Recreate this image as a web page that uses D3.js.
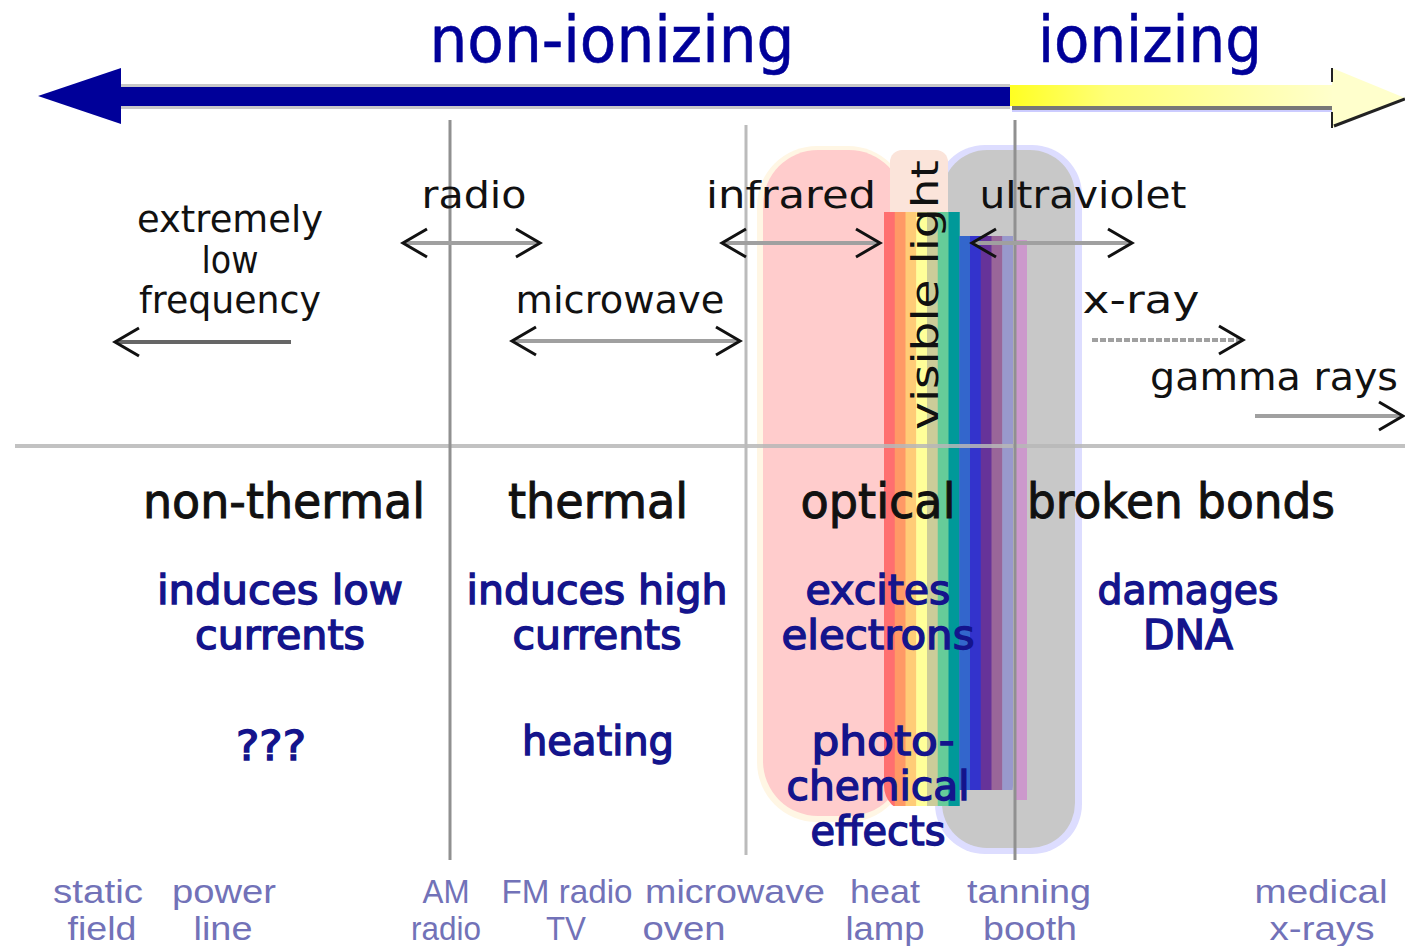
<!DOCTYPE html>
<html><head><meta charset="utf-8">
<script src="https://cdn.jsdelivr.net/npm/d3@7"></script>
<style>html,body{margin:0;padding:0;background:#fff;overflow:hidden}</style>
</head><body><svg id="chart" width="1405" height="946"></svg>
<script>
// ---------- data ----------
const divisions = ["non-ionizing", "ionizing"];
const bandLabels = [["extremely", "low", "frequency"], ["radio"], ["microwave"], ["infrared"], ["ultraviolet"], ["x-ray"], ["gamma rays"]];
const bandArrowTypes = ["left", "both", "both", "both", "both", "right", "right"];
const visibleLabel = "visible light";
const regionNames = ["non-thermal", "thermal", "optical", "broken bonds"];
const regionEffects = [["induces low", "currents"], ["induces high", "currents"], ["excites", "electrons"], ["damages", "DNA"]];
const regionOutcomes = [["???"], ["heating"], ["photo-", "chemical", "effects"], []];
const sources = [["static", "field"], ["power", "line"], ["AM", "radio"], ["FM radio", "TV"], ["microwave", "oven"], ["heat", "lamp"], ["tanning", "booth"], ["medical", "x-rays"]];
const spectrumColors = ["#FF6F6F", "#FF9966", "#FFCC77", "#FFFF99", "#CCCC99", "#66CC99", "#009999", "#3366CC", "#3333CC", "#663399", "#996699", "#9999CC"];

// ---------- layout (design-space positions) ----------
const dividerX = [450, 746, 1015];
const dividerY = [[120, 860], [125, 855], [120, 860]];
const titleCx = [612, 1150], titleW = [365, 224];
const bandCx = [230, 474, 620, 791, 1083, 1141, 1274];
const bandBase = [[232, 273, 313], [208], [313], [208], [208], [313], [390]];
const bandW = [[186, 57, 182], [105], [209], [170], [207], [117], [248]];
const arrowSpan = [[115, 293, 342], [403, 540, 243], [512, 740, 341], [722, 880, 243], [972, 1132, 243], [1090, 1243, 340], [1253, 1403, 416]];
const regionCx = [284, 598, 878, 1181], regionW = [282, 180, 155, 308];
const effectCx = [280, 597, 878, 1188];
const effectW = [[246, 170], [261, 169], [145, 193], [181, 90]];
const outcomeCx = [[271], [598], [883, 878, 878], []];
const outcomeW = [[70], [152], [143, 183, 135], []];
const outcomeBase = [[760], [755], [755, 800, 845], []];
const sourceCx = [[98, 102], [224, 223], [446, 446], [567, 566], [735, 684], [885, 885], [1029, 1030], [1321, 1322]];
const sourceW = [[90, 69], [104, 59], [47, 70], [131, 40], [180, 83], [70, 79], [124, 94], [133, 105]];

const W = 1405, H = 946;
const x = d3.scaleLinear().domain([0, 1405]).range([0, W]);
const y = d3.scaleLinear().domain([0, 946]).range([0, H]);
const svg = d3.select("#chart");
const defs = svg.append("defs");

function label(sel, t, cx, by, w, o) {
  return sel.append("text").attr("x", x(cx)).attr("y", y(by)).attr("text-anchor", "middle")
    .attr("textLength", x(w) - x(0)).attr("lengthAdjust", "spacingAndGlyphs")
    .attr("font-family", o.font).attr("font-size", o.size).attr("font-weight", o.weight || "normal")
    .attr("fill", o.fill).attr("stroke", o.stroke || "none").attr("stroke-width", o.sw || 0)
    .text(t);
}
function box(sel, x0, y0, x1, y1, r, fill) {
  return sel.append("rect").attr("x", x(x0)).attr("y", y(y0)).attr("width", x(x1) - x(x0))
    .attr("height", y(y1) - y(y0)).attr("rx", r).attr("fill", fill);
}

// ---------- visible-light glow region ----------
const glow = svg.append("g");
box(glow, 935, 145, 1082, 854, 50, "#DDDDFF");
box(glow, 942, 150, 1075, 848, 45, "#C8C8C8");
box(glow, 757, 146, 908, 822, 60, "#FFF6E4");
box(glow, 763, 150, 904, 816, 55, "#FFCCCC");
box(glow, 890, 150, 948, 240, 12, "#FBE4DA");
box(glow, 1016, 240, 1027, 800, 0, "#CC99CC");

defs.append("clipPath").attr("id", "specClip").append("rect")
  .attr("x", x(884)).attr("y", y(150)).attr("width", x(1013) - x(884)).attr("height", y(812) - y(150)).attr("rx", 26);
const band = d3.scaleBand().domain(d3.range(spectrumColors.length)).range([x(884), x(1013)]);
glow.append("g").attr("clip-path", "url(#specClip)").selectAll("rect").data(spectrumColors).join("rect")
  .attr("x", (d, i) => band(i)).attr("width", band.bandwidth() + 0.5)
  .attr("y", (d, i) => y(i < 7 ? 212 : 236)).attr("height", (d, i) => y(i < 7 ? 806 : 790) - y(i < 7 ? 212 : 236))
  .attr("fill", d => d);

// ---------- divider lines ----------
svg.append("line").attr("x1", x(15)).attr("x2", x(1405)).attr("y1", y(446)).attr("y2", y(446))
  .attr("stroke", "#B8B8B8").attr("stroke-width", 4).attr("opacity", 0.85);
svg.selectAll("line.div").data(dividerX).join("line").attr("class", "div")
  .attr("x1", d => x(d)).attr("x2", d => x(d))
  .attr("y1", (d, i) => y(dividerY[i][0])).attr("y2", (d, i) => y(dividerY[i][1]))
  .attr("stroke", (d, i) => i === 1 ? "#BBBBBB" : "#909090").attr("stroke-width", 3);

// ---------- big arrow ----------
const grad = defs.append("linearGradient").attr("id", "yel").attr("x1", "0").attr("x2", "1");
grad.append("stop").attr("offset", 0).attr("stop-color", "#FFFF22");
grad.append("stop").attr("offset", 0.3).attr("stop-color", "#FFFF77");
grad.append("stop").attr("offset", 1).attr("stop-color", "#FFFFCC");
const topArrow = svg.append("g");
topArrow.append("rect").attr("x", x(115)).attr("y", y(84)).attr("width", x(1010) - x(115)).attr("height", y(109) - y(84)).attr("fill", "#C8C8C8");
topArrow.append("rect").attr("x", x(110)).attr("y", y(87)).attr("width", x(1010) - x(110)).attr("height", y(106) - y(87)).attr("fill", "#000099");
topArrow.append("path").attr("d", `M${x(38)},${y(96)}L${x(121)},${y(68)}L${x(121)},${y(124)}Z`).attr("fill", "#000099");
topArrow.append("rect").attr("x", x(1010)).attr("y", y(85)).attr("width", x(1334) - x(1010)).attr("height", y(106) - y(85)).attr("fill", "url(#yel)");
topArrow.append("rect").attr("x", x(1012)).attr("y", y(106)).attr("width", x(1333) - x(1012)).attr("height", 4).attr("fill", "#777777");
topArrow.append("rect").attr("x", x(1012)).attr("y", y(110)).attr("width", x(1333) - x(1012)).attr("height", 2).attr("fill", "#CCCCFF");
topArrow.append("path").attr("d", `M${x(1332)},${y(68)}L${x(1405)},${y(98)}L${x(1332)},${y(128)}Z`).attr("fill", "#FFFFCC");
topArrow.append("path").attr("d", `M${x(1334)},${y(126)}L${x(1405)},${y(99)}`).attr("stroke", "#222").attr("stroke-width", 3);
topArrow.append("path").attr("d", `M${x(1332)},${y(68)}V${y(82)}M${x(1332)},${y(112)}V${y(128)}`).attr("stroke", "#222").attr("stroke-width", 2);

divisions.forEach((t, i) => label(svg, t, titleCx[i], 62, titleW[i], { font: "DejaVu Sans", size: 64, fill: "#000099", stroke: "#000099", sw: 0.6 }));

// ---------- band labels & arrows ----------
const blk = { font: "DejaVu Sans", size: 38, fill: "#111" };
bandLabels.forEach((lines, i) => lines.forEach((t, j) => label(svg, t, bandCx[i], bandBase[i][j], bandW[i][j], blk)));
label(svg, visibleLabel, 0, 0, 270, blk).attr("x", 0).attr("y", 0)
  .attr("transform", `translate(${x(938)},${y(295)}) rotate(-90)`);

const arrows = svg.append("g");
arrowSpan.forEach((s, i) => {
  const [a, b, yy] = s, typ = bandArrowTypes[i];
  arrows.append("line").attr("x1", x(a) + 2).attr("x2", x(b) - 2).attr("y1", y(yy)).attr("y2", y(yy))
    .attr("stroke", i === 0 ? "#666" : "#A0A0A0").attr("stroke-width", 4)
    .attr("stroke-dasharray", i === 5 ? "6,2" : null);
  const head = (tip, dir) => arrows.append("path")
    .attr("d", `M${tip - dir * 24},${y(yy) - 14}L${tip},${y(yy)}L${tip - dir * 24},${y(yy) + 14}`)
    .attr("fill", "none").attr("stroke", "#111").attr("stroke-width", 3);
  if (typ === "left" || typ === "both") head(x(a), -1);
  if (typ === "right" || typ === "both") head(x(b), 1);
});

// ---------- effects ----------
regionNames.forEach((t, i) => label(svg, t, regionCx[i], 518, regionW[i], { font: "DejaVu Sans", size: 48, fill: "#111", stroke: "#111", sw: 1 }));
const blue = { font: "DejaVu Sans", size: 40, fill: "#14148C", stroke: "#14148C", sw: 1.4 };
regionEffects.forEach((lines, i) => lines.forEach((t, j) => label(svg, t, effectCx[i], [604, 649][j], effectW[i][j], blue)));
regionOutcomes.forEach((lines, i) => lines.forEach((t, j) => label(svg, t, outcomeCx[i][j], outcomeBase[i][j], outcomeW[i][j], blue)));

// ---------- sources ----------
const src = { font: "Liberation Sans", size: 34, fill: "#7272B8" };
sources.forEach((lines, i) => lines.forEach((t, j) => label(svg, t, sourceCx[i][j], [903, 940][j], sourceW[i][j], src)));
</script></body></html>
